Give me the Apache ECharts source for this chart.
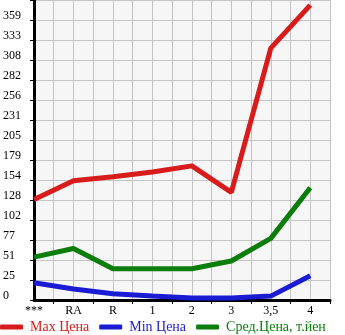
<!DOCTYPE html>
<html><head><meta charset="utf-8">
<script src="https://cdn.jsdelivr.net/npm/echarts@6/dist/echarts.min.js"></script>
<style>html,body{margin:0;padding:0;background:#fff}#c{width:345px;height:335px}</style>
</head><body><div id="c"></div>
<script>
var categories = ['***', 'RA', 'R', '1', '2', '3', '3,5', '4'];
var maxPrice = [129, 153, 158, 164, 172, 138, 323, 378];
var minPrice = [22, 14, 8, 5, 2.5, 2.5, 5, 31];
var avgPrice = [55, 66, 40, 40, 40, 50, 79, 144];
var yTickLabels = ['0', '25', '51', '77', '102', '128', '154', '179', '205', '231', '256', '282', '308', '333', '359', ''];
var seriesNames = ['Max Цена', 'Min Цена', 'Сред.Цена, т.йен'];

var step = 359 / 14;
var axisCats = [];
categories.forEach(function (c) { axisCats.push(c); axisCats.push(''); });
function pts(arr) { return arr.map(function (v, i) { return [2 * i, v]; }); }
var colors = ['#d81b1b', '#1b1bd3', '#0b7d0b'];
var font = '"Liberation Serif", "Times New Roman", serif';

var chart = echarts.init(document.getElementById('c'), null, {renderer: 'canvas'});
chart.setOption({
  animation: false,
  grid: {left: 31, right: 15, top: 0, bottom: 35, show: true, backgroundColor: '#f6f6f6', borderWidth: 0},
  xAxis: {
    type: 'category', data: axisCats, boundaryGap: false,
    axisLine: {lineStyle: {color: '#000', width: 3}},
    axisTick: {show: true, length: 4, inside: false, interval: function (i) { return i % 2 === 1; }, lineStyle: {color: '#000', width: 1}},
    axisLabel: {interval: function (i) { return i % 2 === 0; }, color: '#000', fontFamily: font, fontSize: 12, margin: 5},
    splitLine: {show: true, interval: 0, lineStyle: {color: '#c4c4c4', width: 1}}
  },
  yAxis: {
    type: 'value', min: 0, max: step * 15, interval: step,
    axisLine: {show: true, lineStyle: {color: '#000', width: 3}},
    axisTick: {show: true, length: 4, lineStyle: {color: '#000', width: 1}},
    axisLabel: {
      color: '#000', fontFamily: font, fontSize: 12, align: 'left', verticalAlign: 'bottom', margin: 31,
      padding: [0, 0, -2, 0],
      formatter: function (v) { return yTickLabels[Math.round(v / step)] || ''; }
    },
    splitLine: {show: true, lineStyle: {color: '#c4c4c4', width: 1}}
  },
  legend: {
    top: 320, left: 0, padding: 0, itemWidth: 23, itemHeight: 5, itemGap: 10, icon: 'roundRect',
    textStyle: {fontFamily: font, fontSize: 14, padding: [0, 0, 0, 2], rich: {}},
    data: seriesNames.map(function (n, i) { return {name: n, textStyle: {color: colors[i]}}; })
  },
  series: [
    {name: seriesNames[0], type: 'line', data: pts(maxPrice), symbol: 'none', lineStyle: {width: 5, color: colors[0]}, itemStyle: {color: colors[0]}},
    {name: seriesNames[1], type: 'line', data: pts(minPrice), symbol: 'none', lineStyle: {width: 5, color: colors[1]}, itemStyle: {color: colors[1]}},
    {name: seriesNames[2], type: 'line', data: pts(avgPrice), symbol: 'none', lineStyle: {width: 5, color: colors[2]}, itemStyle: {color: colors[2]}}
  ]
});
</script></body></html>
